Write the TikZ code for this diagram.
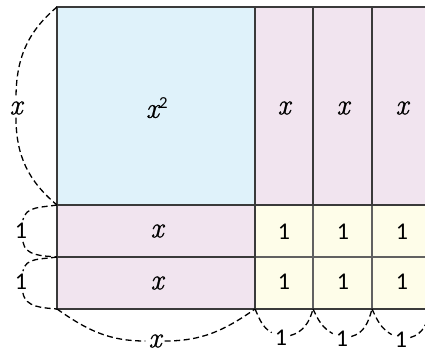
\documentclass[tikz,border=0pt]{standalone}
\usepackage{fontspec}
\setmainfont{Carlito}
\newfontfamily\varfont{Latin Modern Roman}[FakeBold=0.8]
\newcommand{\varx}{{\fontsize{29}{30}\varfont\itshape x}}
\definecolor{sqblue}{HTML}{DFF2FA}
\definecolor{barpink}{HTML}{F1E4EF}
\definecolor{unityellow}{HTML}{FEFDE9}
\definecolor{edge}{HTML}{3A3A3A}
\begin{document}
\begin{tikzpicture}[x=1pt,y=-1pt,
  tile/.style={draw=edge, line width=1.8pt},
  thin tile/.style={draw=edge!80, line width=1.5pt},
  brace/.style={dash pattern=on 6pt off 3.5pt, line width=1.3pt},
  lbl/.style={font=\fontsize{24}{28}\selectfont, inner sep=3pt}]
  \useasboundingbox (0,0) rectangle (425,354);
  \clip (0,0) rectangle (425,354);
  % grid corners
  \coordinate (tl) at (57,7);
  \coordinate (ml) at (57,205);
  \coordinate (m2) at (57,257);
  \coordinate (bl) at (57,309);
  \coordinate (c1) at (255,309);
  \coordinate (c2) at (313,309);
  \coordinate (c3) at (372,309);
  \coordinate (c4) at (431,309);
  % tiles
  \fill[sqblue] (57,7) rectangle (255,205);
  \fill[barpink] (255,7) rectangle (431,205);
  \fill[barpink] (57,205) rectangle (255,309);
  \fill[unityellow] (255,205) rectangle (431,309);
  \draw[thin tile] (255,257) -- (431,257);
  \foreach \c in {313,372}
    \draw[thin tile] (\c,205) -- (\c,309);
  \foreach \c in {313,372}
    \draw[tile] (\c,7) -- (\c,205);
  \draw[tile] (57,7) rectangle (431,309);
  \draw[tile] (255,7) -- (255,309);
  \draw[tile] (57,205) -- (431,205);
  \draw[tile] (57,257) -- (255,257);
  % tile labels
  \node[lbl] (sq) at (157,108) {\varx\textsuperscript{2}};
  \foreach \c/\n in {284/1,343/2,402/3} {
    \node[lbl] (v\n) at (\c,108) {\varx};
    \node[lbl] (u\n) at (\c,232) {1};
    \node[lbl] (w\n) at (\c,282) {1};
  }
  \node[lbl] (h1) at (157,231) {\varx};
  \node[lbl] (h2) at (157,283) {\varx};
  % side labels
  \node[lbl] (lx) at (16,108) {\varx};
  \node[lbl] (l1) at (21,231) {1};
  \node[lbl] (l2) at (21,282) {1};
  \node[lbl] (bx) at (155,341) {\varx};
  \node[lbl] (b1) at (281,338) {1};
  \node[lbl] (b2) at (342,339) {1};
  \node[lbl] (b3) at (401,340) {1};
  % dashed braces
  \draw[brace] (tl) to[out=220,in=90] (lx) to[out=-90,in=140] (ml);
  \draw[brace] (ml) to[out=190,in=80] (l1) to[out=-80,in=175] (m2);
  \draw[brace] (m2) to[out=190,in=80] (l2) to[out=-80,in=175] (bl);
  \draw[brace] (bl) to[out=-35,in=180] (bx) to[out=0,in=-145] (c1);
  \draw[brace] (c1) to[out=-65,in=150] (b1) to[out=15,in=-105] (c2);
  \draw[brace] (c2) to[out=-65,in=150] (b2) to[out=15,in=-105] (c3);
  \draw[brace] (c3) to[out=-65,in=150] (b3) to[out=15,in=-105] (c4);
\end{tikzpicture}
\end{document}
